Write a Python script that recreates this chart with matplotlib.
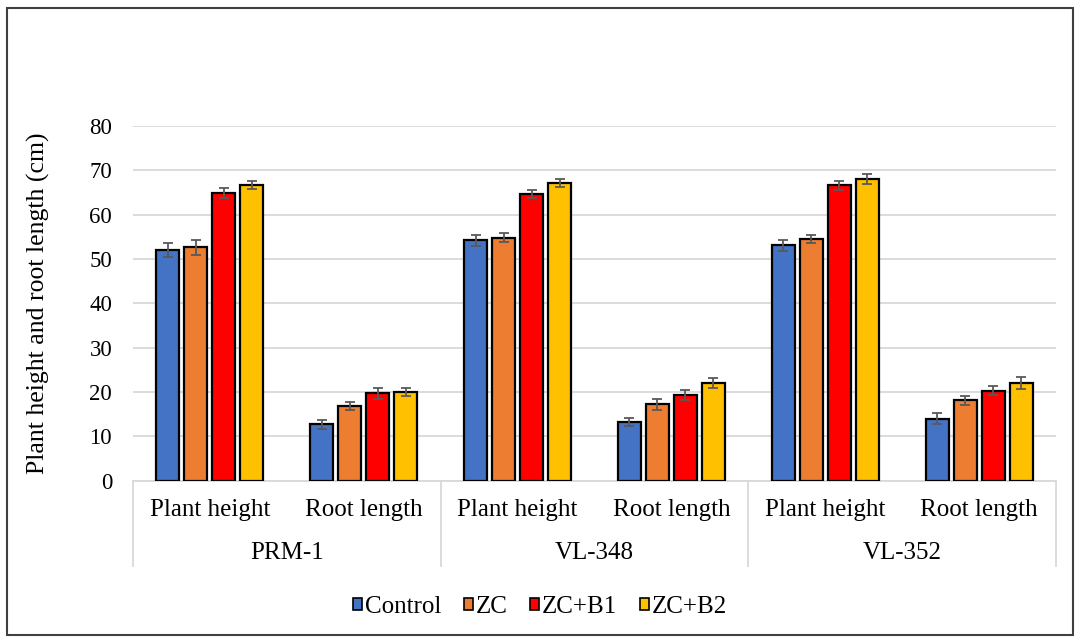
import matplotlib
matplotlib.use("Agg")
import matplotlib.pyplot as plt
import numpy as np
from matplotlib.patches import Patch, Rectangle
from matplotlib.lines import Line2D

plt.rcParams['font.family'] = ['Liberation Serif', 'DejaVu Serif']

varieties = ["PRM-1", "VL-348", "VL-352"]
traits = ["Plant height", "Root length"]
treatments = ["Control", "ZC", "ZC+B1", "ZC+B2"]
colors = ["#4472C4", "#ED7D31", "#FF0000", "#FFC000"]

# mean values, ordered PRM-1 (height, root), VL-348 (height, root), VL-352 (height, root)
control = [52.0, 12.7, 54.2, 13.3, 53.1, 14.0]
zc      = [52.7, 16.8, 54.8, 17.2, 54.6, 18.1]
zc_b1   = [64.9, 19.7, 64.7, 19.4, 66.6, 20.3]
zc_b2   = [66.7, 20.1, 67.1, 22.1, 68.1, 22.1]

# standard errors
control_err = [1.6, 1.1, 1.2, 0.9, 1.3, 1.2]
zc_err      = [1.7, 0.9, 1.0, 1.3, 0.9, 1.1]
zc_b1_err   = [1.1, 1.2, 0.9, 1.1, 1.0, 1.0]
zc_b2_err   = [0.9, 0.9, 0.9, 1.1, 1.1, 1.4]

yticks = [0, 10, 20, 30, 40, 50, 60, 70, 80]

W, H = 1081, 643
fig = plt.figure(figsize=(W / 100, H / 100), dpi=100)
ax_h = 480.7 - 126
ax = fig.add_axes([133 / W, 1 - 480.7 / H, (1056 - 133) / W, ax_h / H])

means = [control, zc, zc_b1, zc_b2]
errs = [control_err, zc_err, zc_b1_err, zc_b2_err]
n_cat = len(varieties) * len(traits)
x = np.arange(n_cat)
pitch = 0.182
width = 0.15
for i, (m, e, c, lab) in enumerate(zip(means, errs, colors, treatments)):
    pos = x + (i - 1.5) * pitch
    ax.bar(pos, m, width=width, color=c, edgecolor="black", linewidth=1.6,
           label=lab, zorder=3)
    ax.errorbar(pos, m, yerr=e, fmt="none", ecolor="#595959", elinewidth=1.3,
                capsize=3.4, capthick=1.3, zorder=4)

ax.set_xlim(-0.5, n_cat - 0.5)
ax.set_ylim(0, 80)
ax.set_yticks(yticks)
ax.set_yticklabels([str(t) for t in yticks], fontsize=16.5)
ax.yaxis.grid(True, color="#d9d9d9", linewidth=1.3, zorder=0)
ax.set_axisbelow(True)
ax.tick_params(axis="y", length=0, pad=15)
ax.tick_params(axis="x", length=0, pad=13)
for s in ["top", "right", "left"]:
    ax.spines[s].set_visible(False)
ax.spines["bottom"].set_color("#d9d9d9")
ax.spines["bottom"].set_linewidth(1.3)

ax.set_xticks(x)
ax.set_xticklabels(traits * len(varieties), fontsize=18)

ax.set_ylabel("Plant height and root length (cm)", fontsize=18.5, labelpad=28)

# group labels and separators of the two-level category axis
trans = ax.get_xaxis_transform()
sep_drop = (566 - 480.7) / ax_h
for g, name in enumerate(varieties):
    ax.text(2 * g + 0.5, -(553 - 480.7) / ax_h, name, transform=trans,
            ha="center", va="center", fontsize=18)
for b in range(len(varieties) + 1):
    ax.add_line(Line2D([2 * b - 0.5, 2 * b - 0.5], [0, -sep_drop], transform=trans,
                       color="#d9d9d9", linewidth=1.3, clip_on=False))

handles = [Patch(facecolor=c, edgecolor="black", linewidth=1.2) for c in colors]
fig.legend(handles, treatments, loc="center", bbox_to_anchor=(540 / W, 1 - 607 / H),
           ncol=4, frameon=False, fontsize=18, handlelength=0.36, handleheight=0.36,
           handletextpad=0.12, columnspacing=0.9)

# outer frame around the chart area
fig.add_artist(Rectangle((7 / W, 1 - 635 / H), (1073 - 7) / W, (635 - 8) / H,
                         transform=fig.transFigure, fill=False,
                         edgecolor="#404040", linewidth=1.5))

fig.savefig("out.png", dpi=100)
